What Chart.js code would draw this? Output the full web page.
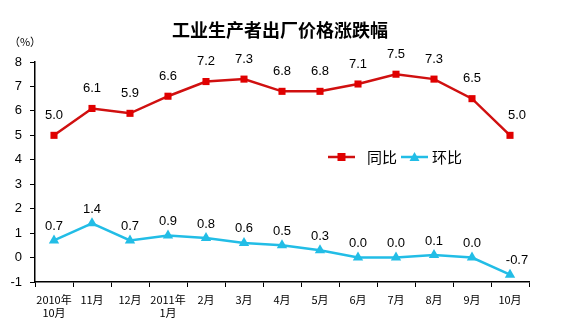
<!DOCTYPE html>
<html>
<head>
<meta charset="utf-8">
<script src="https://cdn.jsdelivr.net/npm/chart.js@4.4.0/dist/chart.umd.min.js"></script>
<style>
    html, body { margin: 0; padding: 0; background: #fff; }
    #wrap { position: relative; width: 567px; height: 327px; }
</style>
</head>
<body>
<div id="wrap"><canvas id="priceChart" width="567" height="327"></canvas></div>
<script>
// 工业生产者出厂价格涨跌幅 (%)
const months = [['2010年', '10月'], '11月', '12月', ['2011年', '1月'], '2月', '3月', '4月', '5月', '6月', '7月', '8月', '9月', '10月'];
const yoy = [5.0, 6.1, 5.9, 6.6, 7.2, 7.3, 6.8, 6.8, 7.1, 7.5, 7.3, 6.5, 5.0];
const mom = [0.7, 1.4, 0.7, 0.9, 0.8, 0.6, 0.5, 0.3, 0.0, 0.0, 0.1, 0.0, -0.7];
const yTicks = [-1, 0, 1, 2, 3, 4, 5, 6, 7, 8];

const RED = '#d01010';
const CYAN = '#22bde6';
const TEXT_FONT = 'Arial, "Liberation Sans", sans-serif';
const CJK_FONT = '"Noto Sans CJK SC", sans-serif';

// value labels above each point
const pointLabels = {
    id: 'pointLabels',
    afterDatasetsDraw(chart) {
        const ctx = chart.ctx;
        ctx.save();
        ctx.font = '13px ' + TEXT_FONT;
        ctx.fillStyle = '#000';
        ctx.textAlign = 'center';
        ctx.textBaseline = 'middle';
        chart.data.datasets.forEach((ds, i) => {
            const meta = chart.getDatasetMeta(i);
            const lift = i === 0 ? 20 : 14;
            meta.data.forEach((pt, j) => {
                const dx = j === ds.data.length - 1 ? 7 : 0;
                ctx.fillText(ds.data[j].toFixed(1), pt.x + dx, pt.y - lift);
            });
        });
        ctx.restore();
    }
};

// title, unit and legend
const decorations = {
    id: 'decorations',
    afterDraw(chart) {
        const ctx = chart.ctx;
        ctx.save();
        ctx.fillStyle = '#000';
        ctx.textBaseline = 'middle';
        ctx.textAlign = 'center';
        ctx.font = 'bold 18px ' + CJK_FONT;
        ctx.fillText('工业生产者出厂价格涨跌幅', 280, 30);
        ctx.font = '11px ' + CJK_FONT;
        ctx.fillText('（%）', 25, 42);

        const items = [
            { x: 328, gap: 39, label: '同比', ds: chart.data.datasets[0] },
            { x: 401, gap: 31, label: '环比', ds: chart.data.datasets[1] },
        ];
        const y = 157;
        items.forEach(it => {
            ctx.strokeStyle = it.ds.borderColor;
            ctx.lineWidth = 2.5;
            ctx.beginPath();
            ctx.moveTo(it.x, y);
            ctx.lineTo(it.x + 27, y);
            ctx.stroke();
            ctx.fillStyle = it.ds.pointBackgroundColor;
            const cx = it.x + 13.5;
            if (it.ds.pointStyle === 'rect') {
                ctx.fillRect(cx - 4, y - 4, 8, 8);
            } else {
                ctx.beginPath();
                ctx.moveTo(cx, y - 5);
                ctx.lineTo(cx + 5, y + 4);
                ctx.lineTo(cx - 5, y + 4);
                ctx.closePath();
                ctx.fill();
            }
            ctx.fillStyle = '#000';
            ctx.textAlign = 'left';
            ctx.font = '15px ' + CJK_FONT;
            ctx.fillText(it.label, it.x + it.gap, y);
        });
        ctx.restore();
    }
};

new Chart(document.getElementById('priceChart'), {
    type: 'line',
    data: {
        labels: months,
        datasets: [
            {
                label: '同比',
                data: yoy,
                borderColor: RED,
                borderWidth: 2.5,
                pointStyle: 'rect',
                pointRadius: 5,
                pointBackgroundColor: '#e00000',
                pointBorderWidth: 0,
                tension: 0,
            },
            {
                label: '环比',
                data: mom,
                borderColor: CYAN,
                borderWidth: 2.5,
                pointStyle: 'triangle',
                pointRadius: 6,
                pointBackgroundColor: CYAN,
                pointBorderWidth: 0,
                tension: 0,
            },
        ],
    },
    options: {
        responsive: false,
        animation: false,
        layout: { padding: { top: 62, right: 38, bottom: 0, left: 0 } },
        plugins: {
            legend: { display: false },
            title: { display: false },
            tooltip: { enabled: false },
        },
        scales: {
            x: {
                offset: true,
                afterFit(scale) { scale.height = 45; },
                grid: {
                    offset: true,
                    drawOnChartArea: false,
                    tickLength: 5,
                    color: '#000',
                },
                border: { color: '#000', width: 1.5 },
                ticks: {
                    color: '#000',
                    font: { family: CJK_FONT, size: 11 },
                    maxRotation: 0,
                    autoSkip: false,
                    padding: 6,
                },
            },
            y: {
                min: -1,
                max: 8,
                afterFit(scale) { scale.width = 35; },
                afterBuildTicks(scale) { scale.ticks = yTicks.map(v => ({ value: v })); },
                grid: {
                    drawOnChartArea: false,
                    tickLength: 5,
                    color: '#000',
                },
                border: { color: '#000', width: 1.5 },
                ticks: {
                    color: '#000',
                    font: { family: TEXT_FONT, size: 13 },
                    padding: 8,
                },
            },
        },
    },
    plugins: [pointLabels, decorations],
});
</script>
</body>
</html>
